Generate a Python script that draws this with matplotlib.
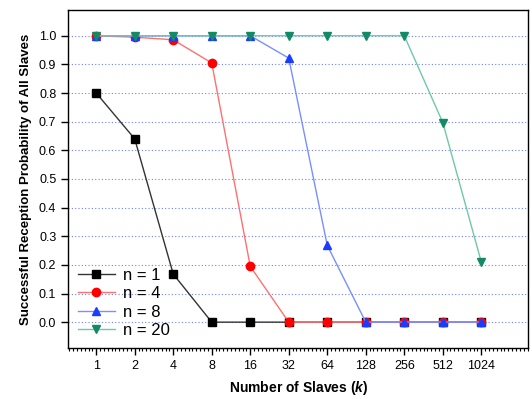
import numpy as np
import matplotlib
matplotlib.use("Agg")
import matplotlib.pyplot as plt
from matplotlib.ticker import MultipleLocator

plt.rcParams["font.family"] = ["Liberation Sans", "DejaVu Sans"]
plt.rcParams["mathtext.fontset"] = "custom"
plt.rcParams["mathtext.it"] = "Liberation Sans:italic:bold"

slaves = ["1", "2", "4", "8", "16", "32", "64", "128", "256", "512", "1024"]
p_n1 = [0.80, 0.64, 0.168, 0, 0, 0, 0, 0, 0, 0, 0]
p_n4 = [1.0, 0.995, 0.986, 0.905, 0.195, 0, 0, 0, 0, 0, 0]
p_n8 = [1.0, 1.0, 1.0, 1.0, 1.0, 0.922, 0.268, 0, 0, 0, 0]
p_n20 = [1.0, 1.0, 1.0, 1.0, 1.0, 1.0, 1.0, 1.0, 1.0, 0.697, 0.21]

series = [
    ("n = 1", p_n1, "s", "#000000", "#333333"),
    ("n = 4", p_n4, "o", "#ff0000", "#ff7070"),
    ("n = 8", p_n8, "^", "#1a3cff", "#7890ff"),
    ("n = 20", p_n20, "v", "#138a66", "#70c8a8"),
]

x = np.arange(len(slaves))

fig = plt.figure(figsize=(5.32, 3.99), dpi=100)
ax = fig.add_axes([0.128, 0.128, 0.865, 0.847])

for label, vals, mk, mc, lc in series:
    ax.plot(x, vals, color=lc, lw=1.0, marker=mk, markersize=6,
            markerfacecolor=mc, markeredgecolor=mc, label=label)

ax.set_xlim(-0.73, 11.22)
ax.set_ylim(-0.09, 1.09)
ax.set_xticks(x)
ax.set_xticklabels(slaves)
ax.xaxis.set_minor_locator(MultipleLocator(0.1))
ax.set_yticks(np.round(np.arange(0, 1.01, 0.1), 1))
ax.set_yticklabels(["%.1f" % v for v in np.arange(0, 1.01, 0.1)])
ax.tick_params(axis="both", which="major", direction="out", length=5, width=1, labelsize=9)
ax.tick_params(axis="x", which="minor", direction="out", length=2.5, width=0.8)
ax.grid(axis="y", color="#7080ff", linestyle=(0, (1, 2)), lw=0.8)
ax.set_axisbelow(True)
for s in ax.spines.values():
    s.set_linewidth(1.0)

ax.set_xlabel(r"Number of Slaves ($k$)", fontsize=10, fontweight="bold", labelpad=5)
ax.set_ylabel("Successful Reception Probability of All Slaves", fontsize=9.5,
              fontweight="bold", labelpad=5)

ax.legend(loc="lower left", frameon=False, fontsize=12, handlelength=2.2,
          labelspacing=0.2, borderaxespad=0.2, handletextpad=0.5)

fig.savefig("out.png", dpi=100)
